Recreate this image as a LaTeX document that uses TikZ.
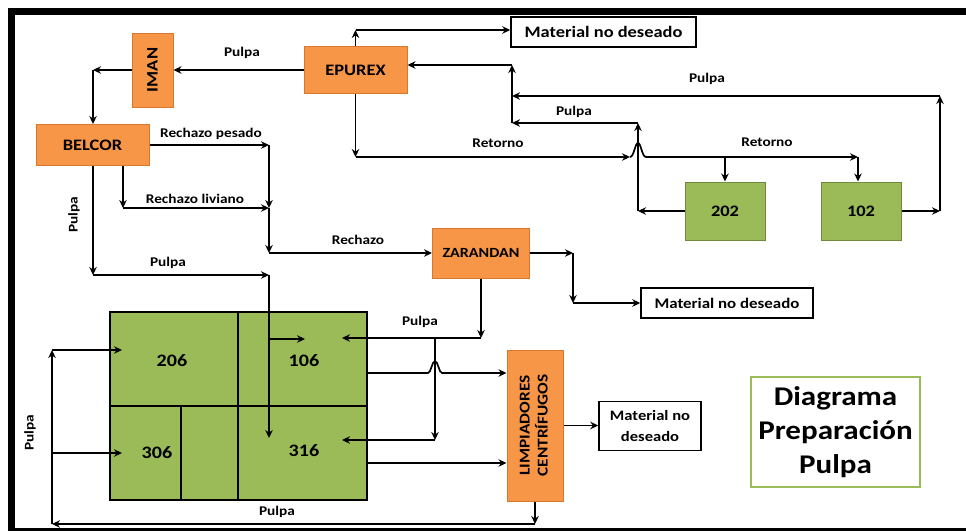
\documentclass[tikz,border=0pt]{standalone}
\usepackage{graphicx}
\usepackage{fontspec}
\setmainfont{Carlito}[FakeStretch=1.15]
\usetikzlibrary{arrows.meta}
\definecolor{orfill}{HTML}{F79646}
\definecolor{ordraw}{HTML}{D9762F}
\definecolor{grfill}{HTML}{9BBB59}
\definecolor{grdraw}{HTML}{71893F}
\begin{document}
\begin{tikzpicture}[x=1pt,y=-1pt,
 proc/.style={draw=ordraw,fill=orfill,line width=1pt,inner sep=0pt,align=center,font=\bfseries\fontsize{16}{19}\selectfont},
 cell/.style={draw=black,fill=grfill,line width=1.3pt,inner sep=0pt},
 gbox/.style={draw=grdraw,fill=grfill,line width=1pt,inner sep=0pt,font=\bfseries\fontsize{16}{19}\selectfont},
 outbox/.style={draw=black,fill=white,line width=1.5pt,inner sep=0pt,align=center},
 lbl/.style={font=\bfseries\fontsize{13.3}{15}\selectfont,inner sep=0pt},
 num/.style={font=\bfseries\fontsize{17.5}{20}\selectfont,inner sep=0pt},
 flow/.style={line width=1.7pt,-{Stealth[length=8pt,width=7.5pt]}},
 wire/.style={line width=1.7pt}
]
\useasboundingbox (0,0) rectangle (966,531);
% frame
\fill[black] (8,8) rectangle (966,15);
\fill[black] (8,8) rectangle (15,531);
\fill[black] (8,528) rectangle (966,531);

% process boxes
\node[proc,minimum width=41pt,minimum height=74pt] (iman) at (152.5,70) {\rotatebox{90}{IMAN}};
\node[proc,minimum width=103pt,minimum height=47pt] (epurex) at (355.5,70) {EPUREX};
\node[proc,minimum width=113pt,minimum height=41pt] (belcor) at (92.5,145) {BELCOR};
\node[proc,minimum width=97pt,minimum height=50pt,font=\bfseries\fontsize{14}{17}\selectfont] (zarandan) at (481,253) {ZARANDAN};
\node[proc,minimum width=56pt,minimum height=151pt] (limp) at (535,425.5)
  {\rotatebox{90}{\fontsize{15}{18}\selectfont\begin{tabular}{@{}c@{}}LIMPIADORES\\CENTRÍFUGOS\end{tabular}}};
\node[gbox,minimum width=80pt,minimum height=58pt] (n202) at (725,211) {202};
\node[gbox,minimum width=80pt,minimum height=58pt] (n102) at (861,211) {102};

% output boxes
\node[outbox,minimum width=185pt,minimum height=30pt,font=\bfseries\fontsize{16}{19}\selectfont] (mnd1) at (603.5,32) {Material no deseado};
\node[outbox,minimum width=172pt,minimum height=30pt,font=\bfseries\fontsize{14.7}{18}\selectfont] (mnd2) at (727,303) {Material no deseado};
\node[outbox,minimum width=102pt,minimum height=49pt,font=\bfseries\fontsize{14.4}{21}\selectfont] (mnd3) at (650,426) {Material no\\deseado};

% title
\node[draw=grfill,fill=white,line width=1.5pt,minimum width=169pt,minimum height=110pt,align=center,inner sep=0pt,
  font=\bfseries\fontsize{27}{34}\selectfont] (title) at (835.5,432) {Diagrama\\Preparación\\Pulpa};

% big green block
\node[cell,minimum width=128pt,minimum height=94pt] (c206) at (174,359) {};
\node[cell,minimum width=129pt,minimum height=94pt] (c106) at (302.5,359) {};
\node[cell,minimum width=71pt,minimum height=94pt] (c306) at (145.5,453) {};
\node[cell,minimum width=57pt,minimum height=94pt] (cmid) at (209.5,453) {};
\node[cell,minimum width=129pt,minimum height=94pt] (c316) at (302.5,453) {};
\node[num] (t206) at (172,361) {206};
\node[num] (t106) at (304,361) {106};
\node[num] (t306) at (157,453) {306};
\node[num] (t316) at (304,451) {316};

% labels
\node[lbl] (lp1) at (242,53) {Pulpa};
\node[lbl] (lrp) at (211,134) {Rechazo pesado};
\node[lbl] (lrl) at (195,199) {Rechazo liviano};
\node[lbl,rotate=90] (lp2) at (74,215) {Pulpa};
\node[lbl] (lp3) at (168,263) {Pulpa};
\node[lbl] (lrz) at (358,240) {Rechazo};
\node[lbl] (lr1) at (498,143) {Retorno};
\node[lbl] (lp4) at (574,112) {Pulpa};
\node[lbl] (lp5) at (707,79) {Pulpa};
\node[lbl] (lr2) at (767,142) {Retorno};
\node[lbl] (lp6) at (420,322) {Pulpa};
\node[lbl] (lp7) at (277,512) {Pulpa};
\node[lbl,rotate=90] (lp8) at (30,433) {Pulpa};

% EPUREX -> IMAN -> BELCOR
\draw[flow] (epurex.west) -- (iman.east);
\coordinate (k1) at (93,70);
\draw[flow] (iman.west) -- (k1);
\draw[flow] (k1) -- (k1 |- belcor.north);

% BELCOR rejects
\coordinate (rp) at (269,145);
\coordinate (rl) at (269,208);
\coordinate (bl) at (123,208);
\coordinate (rz) at (269,253);
\draw[flow] (belcor.east) -- (rp);
\draw[flow] (rp) -- (rl);
\draw[flow] (belcor.south -| bl) -- (bl);
\draw[flow] (bl) -- (rl);
\draw[flow] (rl) -- (rz);
\draw[flow] (rz) -- (zarandan.west);

% BELCOR pulp
\coordinate (bp) at (93,275);
\coordinate (bp2) at (269,275);
\coordinate (in316) at (269,438);
\coordinate (j106) at (269,339);
\coordinate (in106a) at (305,339);
\draw[flow] (belcor.south -| bp) -- (bp);
\draw[flow] (bp) -- (bp2);
\draw[flow] (bp2) -- (in316);
\draw[flow] (j106) -- (in106a);

% EPUREX top
\coordinate (et) at (355.5,30);
\draw[flow] (epurex.north) -- (et);
\draw[flow] (et) -- (mnd1.west |- et);

% EPUREX bottom: Retorno
\coordinate (eb) at (355.5,157);
\coordinate (h1) at (630,157);
\coordinate (r202) at (725,157);
\coordinate (r102) at (858,157);
\draw[flow] (epurex.south) -- (eb);
\draw[flow] (eb) -- (h1);
\draw[flow] (h1) .. controls (634,157) and (635,143) .. (638,143) .. controls (641,143) and (642,157) .. (646,157) -- (r102);
\draw[flow] (r102) -- (r102 |- n102.north);
\draw[flow] (r202) -- (n202.north);

% 202 return
\coordinate (p1) at (638,211);
\coordinate (p2) at (638,123);
\coordinate (p3) at (512,123);
\coordinate (p4) at (512,65);
\draw[flow] (n202.west) -- (p1);
\draw[flow] (p1) -- (p2);
\draw[flow] (p2) -- (p3);
\draw[flow] (p3) -- (p4);
\draw[flow] (p4) -- (p4 -| epurex.east);

% 102 return
\coordinate (q1) at (940,211);
\coordinate (q2) at (940,96);
\coordinate (q3) at (512,96);
\draw[flow] (n102.east) -- (q1);
\draw[flow] (q1) -- (q2);
\draw[flow] (q2) -- (q3);

% ZARANDAN outputs
\coordinate (z1) at (573,253);
\coordinate (z2) at (573,303);
\draw[flow] (zarandan.east) -- (z1);
\draw[flow] (z1) -- (z2);
\draw[flow] (z2) -- (mnd2.west);
\coordinate (z3) at (481,338);
\coordinate (in106b) at (342,338);
\coordinate (z4) at (435,338);
\coordinate (z5) at (435,440);
\coordinate (in316b) at (342,440);
\draw[flow] (zarandan.south) -- (z3);
\draw[flow] (z3) -- (in106b);
\draw[flow] (z4) -- (z5);
\draw[flow] (z5) -- (in316b);

% block -> limpiadores
\coordinate (o1) at (367,373);
\coordinate (o2) at (367,463);
\draw[flow] (o1) -- (428,373) .. controls (431,373) and (432,361) .. (435,361) .. controls (438,361) and (439,373) .. (442,373) -- (limp.west |- o1);
\draw[flow] (o2) -- (limp.west |- o2);
\draw[flow] (limp.east) -- (limp.east -| mnd3.west);

% limpiadores bottom return
\coordinate (l1) at (535,524);
\coordinate (l2) at (52,524);
\coordinate (l3) at (52,350);
\coordinate (in206) at (122,350);
\coordinate (l4) at (52,453);
\coordinate (in306) at (122,453);
\draw[flow] (limp.south) -- (l1);
\draw[flow] (l1) -- (l2);
\draw[flow] (l2) -- (l3);
\draw[flow] (l3) -- (in206);
\draw[flow] (l4) -- (in306);
\end{tikzpicture}
\end{document}
